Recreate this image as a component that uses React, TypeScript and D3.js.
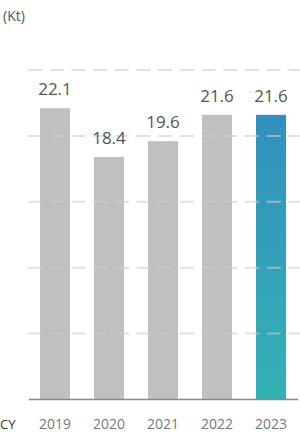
import React from "react";
import * as d3 from "d3";

const years = ["2019", "2020", "2021", "2022", "2023"];
const values = [22.1, 18.4, 19.6, 21.6, 21.6];
const gridTicks = [5, 10, 15, 20, 25];
const unitLabel = "(Kt)";
const axisPrefix = "CY";

export default function App() {
  const W = 300, H = 440;
  const x = d3.scaleBand<string>().domain(years).range([28, 298]).paddingInner(0.444).paddingOuter(0.222);
  const y = d3.scaleLinear().domain([0, 25]).range([399.5, 70]);
  const font = "'Open Sans', 'Noto Sans', sans-serif";
  return (
    <svg width={W} height={H} style={{ position: "absolute", left: 0, top: 0 }} fontFamily={font}>
      <defs>
        <linearGradient id="hl" x1="0" y1="0" x2="0" y2="1">
          <stop offset="0%" stopColor="#3190be" />
          <stop offset="100%" stopColor="#34b2b5" />
        </linearGradient>
      </defs>
      <text x={3} y={21} fontSize={14} fill="#555">{unitLabel}</text>
      {years.map((yr, i) => {
        const last = i === years.length - 1;
        return (
          <rect key={yr} x={x(yr)} y={y(values[i])} width={x.bandwidth()} height={y(0) - y(values[i])}
            fill={last ? "url(#hl)" : "#c0c0c0"} />
        );
      })}
      {gridTicks.map((t) => (
        <line key={t} x1={28} x2={300} y1={y(t)} y2={y(t)} stroke="rgba(205,205,205,0.6)" strokeWidth={2} strokeDasharray="14,7.7" />
      ))}
      <line x1={29} x2={298} y1={399.5} y2={399.5} stroke="#888" strokeWidth={1.5} />
      {years.map((yr, i) => (
        <text key={"v" + yr} x={(x(yr) as number) + x.bandwidth() / 2} y={y(values[i]) - 13} fontSize={17} fill="#555" textAnchor="middle">
          {values[i].toFixed(1)}
        </text>
      ))}
      {years.map((yr) => (
        <text key={"l" + yr} x={(x(yr) as number) + x.bandwidth() / 2} y={429} fontSize={14} fill="#777" textAnchor="middle">
          {yr}
        </text>
      ))}
      <text x={0} y={429} fontSize={13} fill="#333">{axisPrefix}</text>
    </svg>
  );
}
